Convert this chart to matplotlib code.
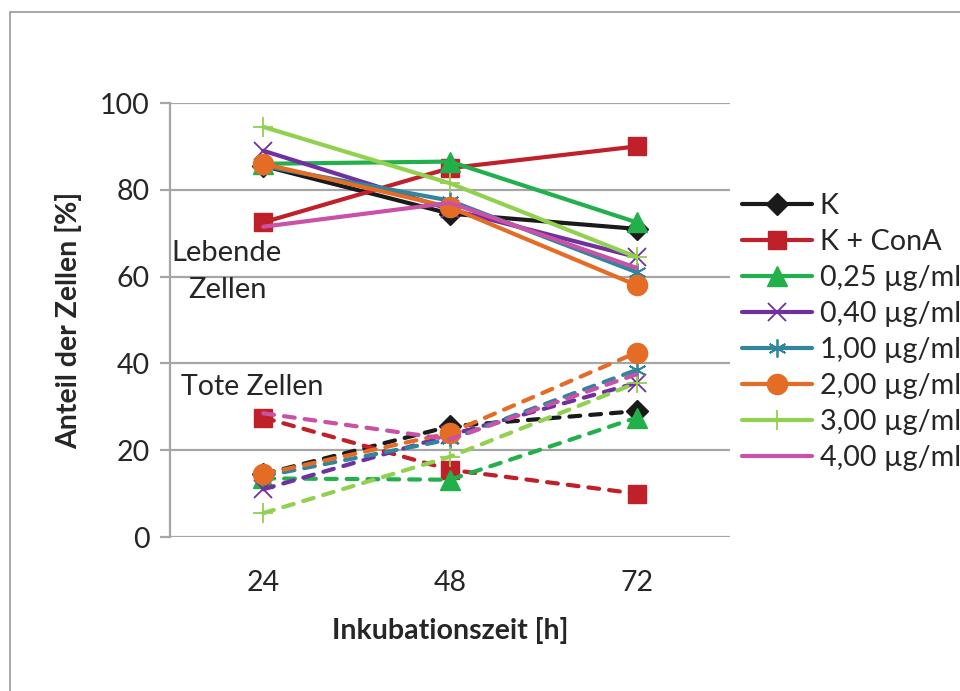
import matplotlib
matplotlib.use("Agg")
import matplotlib.pyplot as plt
from matplotlib.patches import Rectangle

plt.rcParams["font.family"] = ["Lato", "DejaVu Sans"]

# Incubation times (categories)
times = ["24", "48", "72"]

labels = ["K", "K + ConA", "0,25 µg/ml", "0,40 µg/ml", "1,00 µg/ml",
          "2,00 µg/ml", "3,00 µg/ml", "4,00 µg/ml"]

# Living cells [%]
live_k = [85.5, 74.5, 71.0]
live_kcona = [72.5, 85.0, 90.0]
live_025 = [86.0, 86.5, 72.5]
live_040 = [89.0, 75.5, 64.5]
live_100 = [85.5, 77.5, 61.0]
live_200 = [86.0, 76.0, 58.0]
live_300 = [94.5, 81.5, 64.5]
live_400 = [71.5, 77.0, 62.0]

# Dead cells [%]
dead_k = [14.5, 25.5, 29.0]
dead_kcona = [27.5, 15.5, 10.0]
dead_025 = [13.5, 13.2, 27.5]
dead_040 = [11.0, 23.5, 35.5]
dead_100 = [14.0, 22.5, 38.5]
dead_200 = [14.5, 24.0, 42.5]
dead_300 = [5.5, 18.5, 35.5]
dead_400 = [28.5, 22.5, 37.5]

live = [live_k, live_kcona, live_025, live_040, live_100, live_200, live_300, live_400]
dead = [dead_k, dead_kcona, dead_025, dead_040, dead_100, dead_200, dead_300, dead_400]

colors = ["#1a1a1a", "#c0202a", "#22b04b", "#7030a0", "#31859c",
          "#e46c24", "#92d050", "#c951a6"]
markers = ["D", "s", "^", "x", (6, 2, 0), "o", "+", None]
msizes = [11, 13.5, 14, 13, 13, 14.5, 14, 0]
filled = [True, True, True, False, False, True, False, False]

W, H = 960, 691
fig = plt.figure(figsize=(W / 100, H / 100), dpi=100)
ax = fig.add_axes([170 / W, 1 - 537 / H, 560 / W, (537 - 103) / H])

xs = list(range(len(times)))
text_c = "#262626"
grid_c = "#a6a6a6"


def marker_style(col, mk, fl):
    if mk is None:
        return {}
    if fl:
        return dict(markerfacecolor=col, markeredgecolor=col, markeredgewidth=1)
    return dict(markeredgecolor=col, markeredgewidth=1.3)


handles = []
for vals, col, mk, ms, fl, lab in zip(live, colors, markers, msizes, filled, labels):
    h, = ax.plot(xs, vals, label=lab, color=col, lw=3.0, marker=mk,
                 markersize=ms, zorder=3, solid_capstyle="round",
                 **marker_style(col, mk, fl))
    handles.append(h)

for vals, col, mk, ms, fl in zip(dead, colors, markers, msizes, filled):
    ax.plot(xs, vals, color=col, lw=3.0, marker=mk, markersize=ms, zorder=3,
            linestyle=(0, (2.6, 2.4)), dash_capstyle="round",
            **marker_style(col, mk, fl))

ax.set_xlim(-0.5, len(times) - 0.5)
ax.set_ylim(0, 100)
ax.set_yticks(range(0, 101, 20))
ax.set_xticks(xs)
ax.set_xticklabels(times)
ax.yaxis.grid(True, color=grid_c, lw=1.6)
ax.set_axisbelow(True)
for s in ["top", "right", "bottom"]:
    ax.spines[s].set_visible(False)
ax.spines["left"].set_color(grid_c)
ax.spines["left"].set_linewidth(1.6)
ax.tick_params(axis="y", length=7.5, width=1.6, color=grid_c, pad=7,
               labelsize=20.5, labelcolor=text_c)
ax.tick_params(axis="x", length=0, pad=24, labelsize=20.5, labelcolor=text_c)

ax.set_ylabel("Anteil der Zellen [%]", fontsize=20.5, fontweight="bold",
              color=text_c, labelpad=13)
ax.set_xlabel("Inkubationszeit [h]", fontsize=20.5, fontweight="bold",
              color=text_c, labelpad=15)

ax.text(-0.49, 65.5, "Lebende", fontsize=21, color=text_c, va="center", ha="left")
ax.text(-0.40, 57.0, "Zellen", fontsize=21, color=text_c, va="center", ha="left")
ax.text(-0.44, 34.5, "Tote Zellen", fontsize=20.5, color=text_c, va="center", ha="left")

leg = fig.legend(handles=handles, loc="upper left",
                 bbox_to_anchor=(742 / W, 1 - 193 / H), frameon=False,
                 fontsize=20.7, handlelength=2.45, handletextpad=0.25,
                 labelspacing=0.35, borderpad=0, borderaxespad=0)
for t in leg.get_texts():
    t.set_color(text_c)

fig.patches.append(Rectangle((10 / W, -0.1), 1.2, 1 - 12 / H + 0.1,
                             transform=fig.transFigure, fill=False,
                             edgecolor="#a0a0a0", lw=1.3, zorder=0))

fig.savefig("out.png", dpi=100)
